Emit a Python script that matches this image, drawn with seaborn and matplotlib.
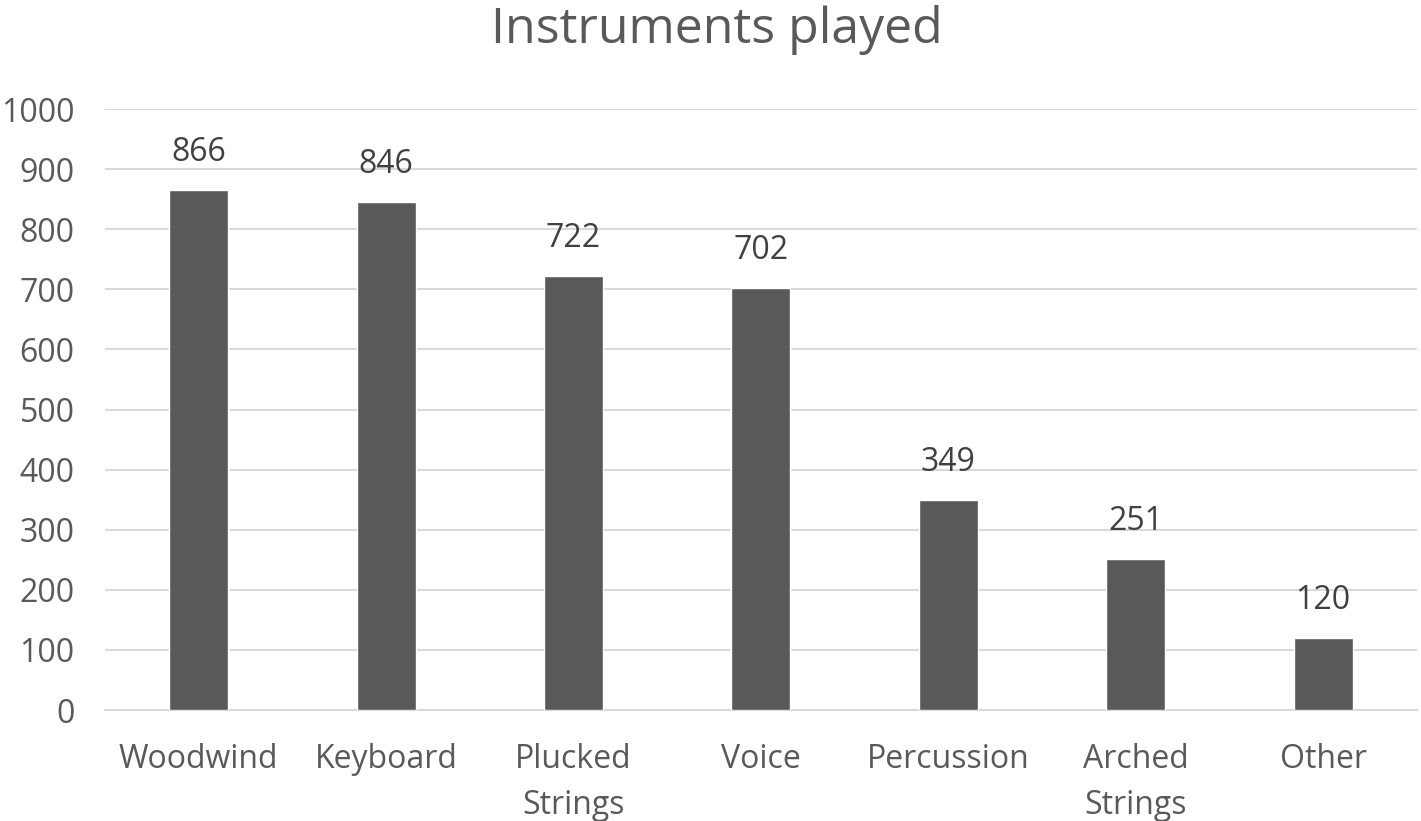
import matplotlib
matplotlib.use("Agg")
import matplotlib.pyplot as plt
import seaborn as sns
import pandas as pd

categories = ["Woodwind", "Keyboard", "Plucked\nStrings", "Voice", "Percussion", "Arched\nStrings", "Other"]
values = [866, 846, 722, 702, 349, 251, 120]
yticks = [0, 100, 200, 300, 400, 500, 600, 700, 800, 900, 1000]

sns.set_theme(style="white")
plt.rcParams['font.family'] = ['Open Sans', 'DejaVu Sans']

df = pd.DataFrame({"category": categories, "value": values})

fig = plt.figure(figsize=(14.21, 8.21), dpi=100)
ax = fig.add_axes([0.0739, 0.1352, 0.9231, 0.732])
sns.barplot(data=df, x="category", y="value", color="#595959", width=0.315,
            saturation=1, ax=ax, zorder=3)

ax.set_ylim(0, 1000)
ax.set_xlim(-0.5, 6.5)
ax.set_yticks(yticks)
ax.yaxis.grid(True, color="#d9d9d9", linewidth=1.5, zorder=0)
ax.set_axisbelow(True)
for s in ["top", "right", "left"]:
    ax.spines[s].set_visible(False)
ax.spines["bottom"].set_color("#d9d9d9")
ax.spines["bottom"].set_linewidth(1.5)
ax.set_xlabel("")
ax.set_ylabel("")
ax.tick_params(axis="both", length=0, labelsize=23, colors="#595959")
ax.tick_params(axis="x", pad=24)
ax.tick_params(axis="y", pad=22)
for lbl in ax.get_xticklabels():
    lbl.set_linespacing(1.5)

for i, v in enumerate(values):
    ax.annotate(str(v), (i, v), xytext=(0, 27), textcoords="offset points",
                ha="center", va="center", fontsize=23, color="#404040")

fig.text(0.5042, 0.963, "Instruments played", ha="center", va="center",
         fontsize=36, color="#595959")

fig.savefig("out.png", dpi=100)
